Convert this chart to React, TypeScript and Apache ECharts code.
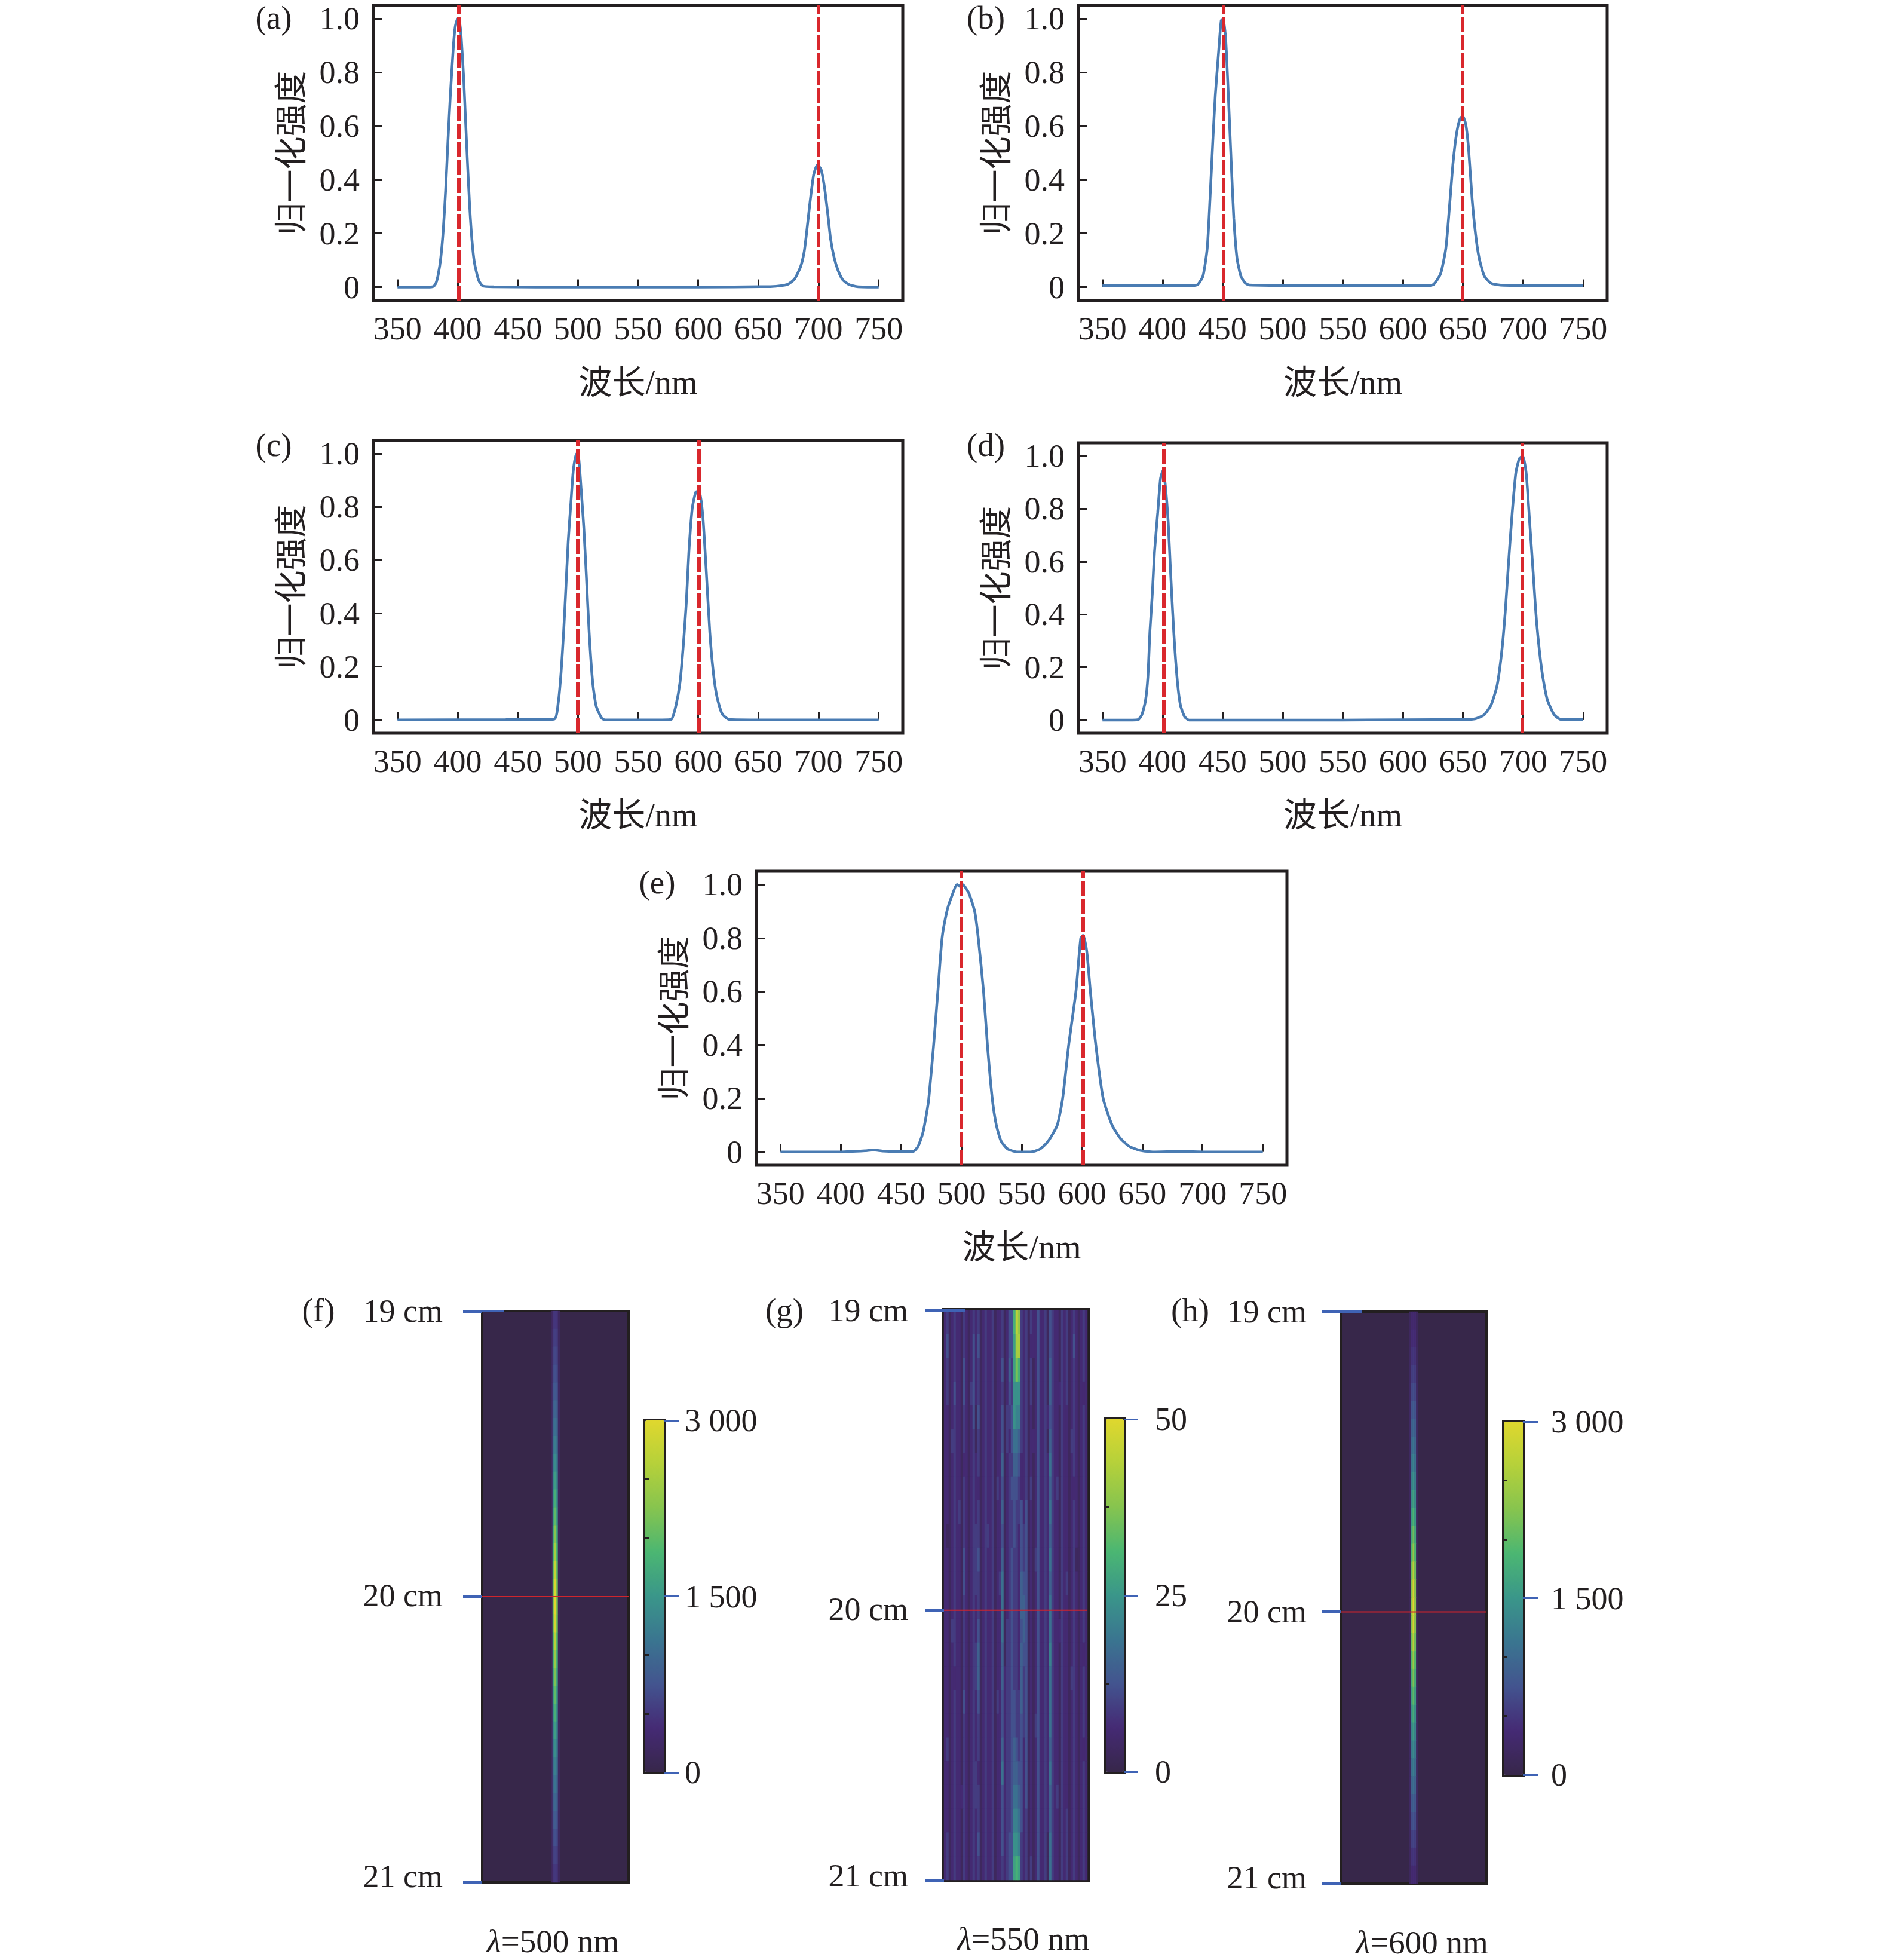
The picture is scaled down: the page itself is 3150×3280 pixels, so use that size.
import React, { useEffect, useRef } from "react";
import * as echarts from "echarts";

const FONT = '"Liberation Serif", "Noto Sans CJK SC", serif';
const INK = "#231f20";
const BLUE_LINE = "#4a7cb3";
const RED = "#d9272d";
const TICK_BLUE = "#3f63b5";

const xTicks = [350, 400, 450, 500, 550, 600, 650, 700, 750];
const yTicks = [0, 0.2, 0.4, 0.6, 0.8, 1.0];
const yName = "归一化强度";
const xName = "波长/nm";

// Spectra: wavelength / intensity pairs
const wlA = [350, 375, 380, 382, 384, 386, 388, 390, 392, 394, 396.5, 398, 400, 401.5, 403, 405, 406.5, 408, 410, 412, 414, 417.5, 421, 430, 500, 600, 660, 670, 675, 680, 685, 688, 690, 693, 696, 699, 702, 705, 708, 710, 713, 716, 720, 725, 732, 750];
const inA = [0, 0, 0.003, 0.015, 0.05, 0.11, 0.21, 0.36, 0.55, 0.72, 0.9, 0.97, 1.0, 0.99, 0.93, 0.78, 0.63, 0.48, 0.3, 0.17, 0.09, 0.025, 0.004, 0.001, 0, 0, 0.002, 0.006, 0.012, 0.03, 0.075, 0.13, 0.2, 0.32, 0.42, 0.455, 0.44, 0.37, 0.26, 0.18, 0.11, 0.065, 0.028, 0.01, 0.002, 0];

const wlB = [350, 425, 429.4, 433.7, 437.2, 439.5, 441.9, 443.9, 446.8, 448.8, 450.3, 452.6, 454.9, 457, 459.3, 461.9, 465.1, 468.6, 472, 550, 620, 625.6, 631.4, 635.8, 638.7, 641.6, 644.5, 647.4, 649.7, 652.3, 654.7, 657.6, 660.5, 663.4, 667.7, 673.5, 683.7, 750];
const inB = [0.005, 0.005, 0.01, 0.042, 0.146, 0.33, 0.55, 0.715, 0.885, 0.993, 1.0, 0.92, 0.7, 0.48, 0.257, 0.11, 0.042, 0.016, 0.008, 0.005, 0.005, 0.01, 0.05, 0.146, 0.294, 0.456, 0.567, 0.626, 0.638, 0.608, 0.515, 0.33, 0.197, 0.11, 0.042, 0.014, 0.007, 0.005];

const wlC = [350, 440, 480.2, 483.7, 486, 488.1, 489.8, 491.9, 494.2, 496.2, 498.8, 500.6, 502.6, 504.9, 507, 509.3, 512.2, 515.1, 519.5, 522.4, 570, 577.6, 581.4, 584.9, 587.8, 590.1, 592.2, 595, 598, 600.9, 603.8, 606.7, 609.6, 612.5, 615.4, 619.8, 625.6, 643, 750];
const inC = [0, 0.001, 0.003, 0.068, 0.18, 0.33, 0.48, 0.67, 0.82, 0.94, 1.0, 0.985, 0.87, 0.72, 0.54, 0.33, 0.143, 0.053, 0.008, 0, 0, 0.002, 0.053, 0.143, 0.293, 0.443, 0.63, 0.795, 0.856, 0.86, 0.766, 0.556, 0.33, 0.18, 0.09, 0.023, 0.002, 0, 0];

const wlD = [350, 375, 379.9, 382.8, 385.8, 387.8, 389.5, 391.6, 393.3, 396, 398.3, 400.3, 402.3, 404.7, 406.7, 409.3, 412, 414.8, 418.3, 422, 550, 651.7, 660.5, 667.7, 673.5, 678.5, 682.3, 685.2, 688, 691, 694, 696.9, 699.7, 702.6, 705.5, 708.4, 711.3, 715.7, 720, 725.9, 731.7, 750];
const inD = [0, 0, 0.002, 0.02, 0.073, 0.163, 0.336, 0.486, 0.636, 0.786, 0.914, 0.944, 0.89, 0.75, 0.56, 0.336, 0.163, 0.058, 0.013, 0, 0, 0.002, 0.005, 0.02, 0.058, 0.133, 0.26, 0.41, 0.6, 0.786, 0.936, 0.99, 1.0, 0.936, 0.75, 0.56, 0.37, 0.185, 0.08, 0.02, 0.002, 0.002];

const wlE = [350, 400, 420, 427, 435, 450, 460, 464, 468, 471, 473, 477, 480.5, 484, 488, 491.5, 496.5, 499, 501, 506, 511, 514, 518.4, 521.6, 525.6, 529, 533, 538.7, 546.7, 557.6, 565, 572, 579.5, 584, 589, 595, 599, 601, 604, 607, 611.5, 617.6, 625, 632, 639.5, 648.5, 659.5, 681, 703, 750];
const inE = [0, 0, 0.004, 0.007, 0.003, 0.001, 0.002, 0.02, 0.07, 0.14, 0.2, 0.4, 0.6, 0.8, 0.9, 0.95, 1.0, 0.993, 1.0, 0.97, 0.9, 0.8, 0.6, 0.4, 0.2, 0.1, 0.04, 0.01, 0, 0, 0.01, 0.04, 0.1, 0.2, 0.4, 0.6, 0.8, 0.81, 0.75, 0.6, 0.4, 0.2, 0.1, 0.05, 0.02, 0.005, 0, 0.002, 0, 0];

const peaksA = [401, 700];
const peaksB = [450.6, 649.7];
const peaksC = [499.6, 600.6];
const peaksD = [401.2, 699.4];
const peaksE = [500, 601];

// Heat maps: the focus streak of panels (f) and (h), row by row from top to bottom
const centreF = [480, 560, 640, 720, 820, 950, 1080, 1230, 1400, 1580, 1790, 2000, 2250, 2500, 2750, 2950, 3000, 2900, 2650, 2400, 2200, 2000, 1800, 1600, 1420, 1260, 1120, 980, 850, 720, 600, 500];
const nearF = [460, 530, 600, 670, 750, 850, 950, 1060, 1180, 1300, 1430, 1560, 1710, 1860, 2020, 2150, 2180, 2120, 1960, 1800, 1670, 1540, 1410, 1280, 1170, 1060, 960, 860, 760, 660, 560, 470];
const outerF = [180, 190, 200, 200, 210, 210, 210, 200, 200, 190, 180, 170, 160, 150, 140, 130, 130, 130, 140, 150, 160, 170, 180, 190, 200, 200, 210, 210, 200, 200, 190, 180];
const centreH = [320, 400, 480, 580, 700, 840, 980, 1120, 1280, 1450, 1640, 1860, 2100, 2350, 2650, 2900, 3000, 2900, 2650, 2420, 2200, 1980, 1760, 1560, 1380, 1220, 1060, 900, 760, 620, 480, 360];
const nearH = [310, 380, 450, 540, 640, 750, 860, 970, 1090, 1220, 1370, 1530, 1700, 1880, 2090, 2260, 2320, 2260, 2090, 1920, 1760, 1600, 1440, 1300, 1170, 1050, 930, 800, 690, 570, 450, 340];
const outerH = [170, 180, 190, 200, 210, 210, 210, 200, 200, 190, 180, 170, 160, 150, 140, 130, 130, 130, 140, 150, 160, 170, 180, 190, 200, 200, 210, 210, 200, 190, 180, 170];
const streakColF = 41;
const streakColH = 41;

// Panel (g): 24 rows of 60 columns, each digit in units of 3 counts
const gRows = [
  "2312322132 1232312322 312231244A FD32313224 2231432213 2312321232",
  "2412322132 1242412322 3122312449 EE32312224 2231432213 2312421232",
  "2312322142 1242312322 3122412539 CA32313124 2231532213 2312321232",
  "2312422142 1342312322 3122312438 8832313124 2231532223 2312321222",
  "2212322132 1241412322 3122413348 7732312124 2232432213 2212321232",
  "2213322132 1231312322 3122413246 6532312224 2231532213 2213321232",
  "2212322122 1232312322 3122512335 5422312124 2232632213 2212321232",
  "2212322132 1232212322 3132412344 4322313124 2232532313 2212221232",
  "2212323132 1232312322 3122512334 3342412124 2232632213 2212321232",
  "2112322132 1233312332 3122412334 3243412124 2232532213 2212321232",
  "2212322142 1233412322 3122512343 3243412134 2232632213 2212311232",
  "2212322142 1233312322 3123612343 3254412124 2232532213 2312321232",
  "2212322132 1232312322 3122612343 3255412124 2232632213 2212321232",
  "2213322132 1232412322 3122613343 3245412124 2232632223 2212321232",
  "2212322132 1233512322 3122513343 3254412124 2232732213 2212321222",
  "2212222132 1233512322 3122523343 3253412124 2232632213 2213321232",
  "2212322142 1232412322 3132423344 3353412124 2232632213 2212321232",
  "2212322132 1232312322 3122423344 3343412134 2232632213 2212321232",
  "2312322132 1232312322 3122523345 4342412124 2232532213 2212321222",
  "2212322132 1233212322 3122623345 5442412124 2232632213 2212321232",
  "2212322232 1233312322 3122423346 6542412124 2232532313 2212321232",
  "2212322132 1232312322 3122423347 7642312124 2232532213 2312321232",
  "2312322132 1232412322 3122423448 8732312124 2231632213 2312321232",
  "2312322132 1232312322 3122323449 A932313124 2231632213 2312321232",
];
const gUnit = 3;

const viridis = ["#37274a", "#452a74", "#43548f", "#3a7590", "#3a968a", "#4bb672", "#86c44f", "#b5d13a", "#dfd72e"];

const barTicksF = [0, 1500, 3000];
const barMinorF = [500, 1000, 2000, 2500];
const barTicksG = [0, 25, 50];
const barMinorG = [12.5, 37.5];
const cmTicksF = [19, 20, 21];
const cmTicksG = [19, 20.053, 21];
const cmTicksH = [19, 20.05, 21];
const cmLabelsF = [19, 19.995, 20.98];
const cmLabelsG = [19, 20.05, 20.985];
const cmLabelsH = [19, 20.05, 20.98];

const W = 3150;
const H = 3280;

function buildOption() {
  const grid: any[] = [];
  const xAxis: any[] = [];
  const yAxis: any[] = [];
  const series: any[] = [];
  const visualMap: any[] = [];
  const graphic: any[] = [];

  const label = (t: string, cx: number, cy: number) =>
    graphic.push({
      type: "text",
      x: cx,
      y: cy,
      z: 10,
      style: { text: t, fill: INK, font: `55px ${FONT}`, align: "center", verticalAlign: "middle" },
    });

  const spectrum = (x0: number, y0: number, x1: number, y1: number, wl: number[], iv: number[], peaks: number[], tag: string, tagX: number, tagY: number) => {
    const g = grid.length;
    grid.push({ left: x0, top: y0, width: x1 - x0, height: y1 - y0, show: true, borderColor: INK, borderWidth: 5, backgroundColor: "#fff", outerBoundsMode: "none" });
    xAxis.push({
      gridIndex: g, type: "value", min: 330, max: 770, splitLine: { show: false }, axisLine: { show: false },
      axisTick: { show: true, inside: true, length: 13, customValues: xTicks, lineStyle: { color: INK, width: 3 } },
      axisLabel: { show: true, customValues: xTicks, margin: 20, fontSize: 54, color: INK, fontFamily: FONT },
      name: xName, nameLocation: "middle", nameGap: 109,
      nameTextStyle: { fontSize: 56, color: INK, fontFamily: FONT },
    });
    yAxis.push({
      gridIndex: g, type: "value", min: -0.05, max: 1.05, splitLine: { show: false }, axisLine: { show: false },
      axisTick: { show: true, inside: true, length: 14, customValues: yTicks, lineStyle: { color: INK, width: 3 } },
      axisLabel: {
        show: true, customValues: yTicks, margin: 23, fontSize: 54, color: INK, fontFamily: FONT, padding: [0, 0, 4, 0],
        formatter: (v: number) => (v === 0 ? "0" : v.toFixed(1)),
      },
      name: yName, nameLocation: "middle", nameGap: 110, nameRotate: 90,
      nameTextStyle: { fontSize: 55, color: INK, fontFamily: FONT },
    });
    series.push({
      type: "line", xAxisIndex: g, yAxisIndex: g, showSymbol: false, silent: true,
      smooth: 0.2,
      lineStyle: { color: BLUE_LINE, width: 4.5 },
      data: wl.map((w, i) => [w, iv[i]]),
      z: 3,
      markLine: {
        silent: true, symbol: "none", label: { show: false }, animation: false, z: 4,
        lineStyle: { color: RED, width: 6, type: [25, 5] },
        data: peaks.map((p) => ({ xAxis: p })),
      },
    });
    label(tag, tagX, tagY);
  };

  const addCells = (
    x0: number, y0: number, x1: number, y1: number, frame: number, nCols: number, nRows: number, cells: number[][], vmax: number,
    bg: string,
    cm: number[], cmLabels: number[], cmMargin: number, lambda: string, lambdaPad: number[], tag: string, tagX: number, tagY: number,
    bx0: number, by0: number, bx1: number, by1: number, major: number[], minor: number[], majorLen: number, labelMargin: number,
    fmt: (v: number) => string,
  ) => {
    // Heat map layer on two category axes
    const g = grid.length;
    grid.push({ left: x0, top: y0, width: x1 - x0, height: y1 - y0, show: true, borderColor: INK, borderWidth: frame, backgroundColor: bg, z: 0, outerBoundsMode: "none" });
    xAxis.push({ gridIndex: g, type: "category", show: false, data: Array.from({ length: nCols }, (_, i) => i) });
    yAxis.push({ gridIndex: g, type: "category", show: false, inverse: true, data: Array.from({ length: nRows }, (_, i) => i) });
    const seriesIndex = series.length;
    series.push({
      type: "heatmap", xAxisIndex: xAxis.length - 1, yAxisIndex: yAxis.length - 1, silent: true, progressive: 0,
      data: cells, z: 2, emphasis: { disabled: true },
    });

    // Overlay: wavelength caption, position ticks and the red guide at the focus
    const o = grid.length;
    grid.push({ left: x0, top: y0, width: x1 - x0, height: y1 - y0, show: false, outerBoundsMode: "none" });
    const xo = xAxis.length;
    xAxis.push({
      gridIndex: o, type: "value", min: 0, max: 1, splitLine: { show: false }, axisLine: { show: false },
      axisTick: { show: false }, axisLabel: { show: false },
      name: lambda, nameLocation: "middle", nameGap: 71,
      nameTextStyle: {
        fontSize: 55, color: INK, fontFamily: FONT, padding: lambdaPad,
        rich: { i: { fontSize: 55, fontStyle: "italic", fontFamily: FONT, color: INK }, n: { fontSize: 55, fontFamily: FONT, color: INK } },
      },
    });
    const yo = yAxis.length;
    yAxis.push({
      gridIndex: o, type: "value", position: "left", inverse: true, min: 19, max: 21, z: 5, splitLine: { show: false }, axisLine: { show: false },
      axisTick: { show: true, length: 32, customValues: cm, lineStyle: { color: TICK_BLUE, width: 5 } },
      axisLabel: { show: true, customValues: cmLabels, margin: cmMargin, fontSize: 54, color: INK, fontFamily: FONT, padding: [0, 0, 6, 0], formatter: (v: number) => `${Math.round(v)} cm` },
    });
    yAxis.push({
      gridIndex: o, type: "value", position: "left", inverse: true, min: 19, max: 21, z: 5, splitLine: { show: false }, axisLine: { show: false },
      axisTick: { show: true, inside: true, length: 36, customValues: [19], lineStyle: { color: TICK_BLUE, width: 4 } },
      axisLabel: { show: false },
    });
    series.push({
      type: "line", xAxisIndex: xo, yAxisIndex: yo, showSymbol: false, silent: true, z: 6,
      lineStyle: { color: "#d0252c", width: 2 },
      data: [[0, cm[1]], [1, cm[1]]],
    });
    label(tag, tagX, tagY);

    // Colour bar: legend gradient with its own frame and scale
    const b = grid.length;
    grid.push({ left: bx0, top: by0, width: bx1 - bx0, height: by1 - by0, show: true, borderColor: INK, borderWidth: 6, backgroundColor: "transparent", outerBoundsMode: "none" });
    xAxis.push({ gridIndex: b, type: "value", show: false, min: 0, max: 1 });
    yAxis.push({
      gridIndex: b, type: "value", position: "right", min: 0, max: vmax, z: 5, splitLine: { show: false }, axisLine: { show: false },
      axisTick: { show: true, length: 6, customValues: minor, lineStyle: { color: INK, width: 3 } },
      axisLabel: { show: false },
    });
    yAxis.push({
      gridIndex: b, type: "value", position: "right", min: 0, max: vmax, z: 6, splitLine: { show: false }, axisLine: { show: false },
      axisTick: { show: true, length: majorLen, customValues: major, lineStyle: { color: TICK_BLUE, width: 3 } },
      axisLabel: { show: true, customValues: major, margin: labelMargin, fontSize: 54, color: INK, fontFamily: FONT, padding: [0, 0, 10, 0], formatter: fmt },
    });
    visualMap.push({
      type: "continuous", seriesIndex, dimension: 2, min: 0, max: vmax, calculable: false, hoverLink: false,
      left: bx0, top: by0, itemWidth: bx1 - bx0, itemHeight: by1 - by0, padding: 0, z: 1,
      inRange: { color: viridis }, textStyle: { color: INK, fontSize: 1 }, text: null,
    });
  };

  spectrum(625, 9, 1511, 503, wlA, inA, peaksA, "(a)", 458, 29);
  spectrum(1805, 9, 2690, 503, wlB, inB, peaksB, "(b)", 1650, 29);
  spectrum(625, 737, 1511, 1227, wlC, inC, peaksC, "(c)", 458, 744);
  spectrum(1805, 741, 2690, 1227, wlD, inD, peaksD, "(d)", 1650, 744);
  spectrum(1266, 1458, 2154, 1950, wlE, inE, peaksE, "(e)", 1100, 1476);

  const streak = (col: number, c: number[], n: number[], o: number[]) => {
    const out: number[][] = [];
    c.forEach((v, r) => {
      out.push([col - 2, r, o[r]], [col - 1, r, n[r]], [col, r, v], [col + 1, r, n[r]], [col + 2, r, o[r]]);
    });
    return out;
  };
  const fmtK = (v: number) => (v === 0 ? "0" : v === 1500 ? "1 500" : "3 000");

  addCells(807, 2194, 1052, 3150, 4, 83, centreF.length, streak(streakColF, centreF, nearF, outerF), 3000, viridis[0],
    cmTicksF, cmLabelsF, 66, "{i|λ}{n|=500 nm}", [0, 8, 0, 0], "(f)", 533, 2192,
    1080, 2377, 1112, 2966, barTicksF, barMinorF, 24, 34, fmtK);

  const gCells: number[][] = [];
  gRows.forEach((row, r) => {
    row.replace(/ /g, "").split("").forEach((ch, c) => gCells.push([c, r, parseInt(ch, 16) * gUnit]));
  });
  addCells(1580, 2193, 1820, 3146, 8, 60, gRows.length, gCells, 50, "#3f2a72",
    cmTicksG, cmLabelsG, 60, "{i|λ}{n|=550 nm}", [0, 0, 0, 26], "(g)", 1313, 2192,
    1851, 2375, 1881, 2965, barTicksG, barMinorG, 24, 52, (v) => String(v));

  addCells(2244, 2195, 2488, 3152, 4, 83, centreH.length, streak(streakColH, centreH, nearH, outerH), 3000, viridis[0],
    cmTicksH, cmLabelsH, 57, "{i|λ}{n|=600 nm}", [0, 0, 0, 28], "(h)", 1992, 2192,
    2517, 2379, 2549, 2970, barTicksF, barMinorF, 26, 47, fmtK);

  return { animation: false, backgroundColor: "#fff", grid, xAxis, yAxis, series, visualMap, graphic: { elements: graphic } };
}

export default function App() {
  const ref = useRef<HTMLDivElement>(null);
  useEffect(() => {
    const chart = echarts.init(ref.current!, undefined, { renderer: "svg", width: W, height: H });
    chart.setOption(buildOption() as any);
    return () => chart.dispose();
  }, []);
  return <div ref={ref} style={{ position: "absolute", left: 0, top: 0, width: W, height: H }} />;
}
